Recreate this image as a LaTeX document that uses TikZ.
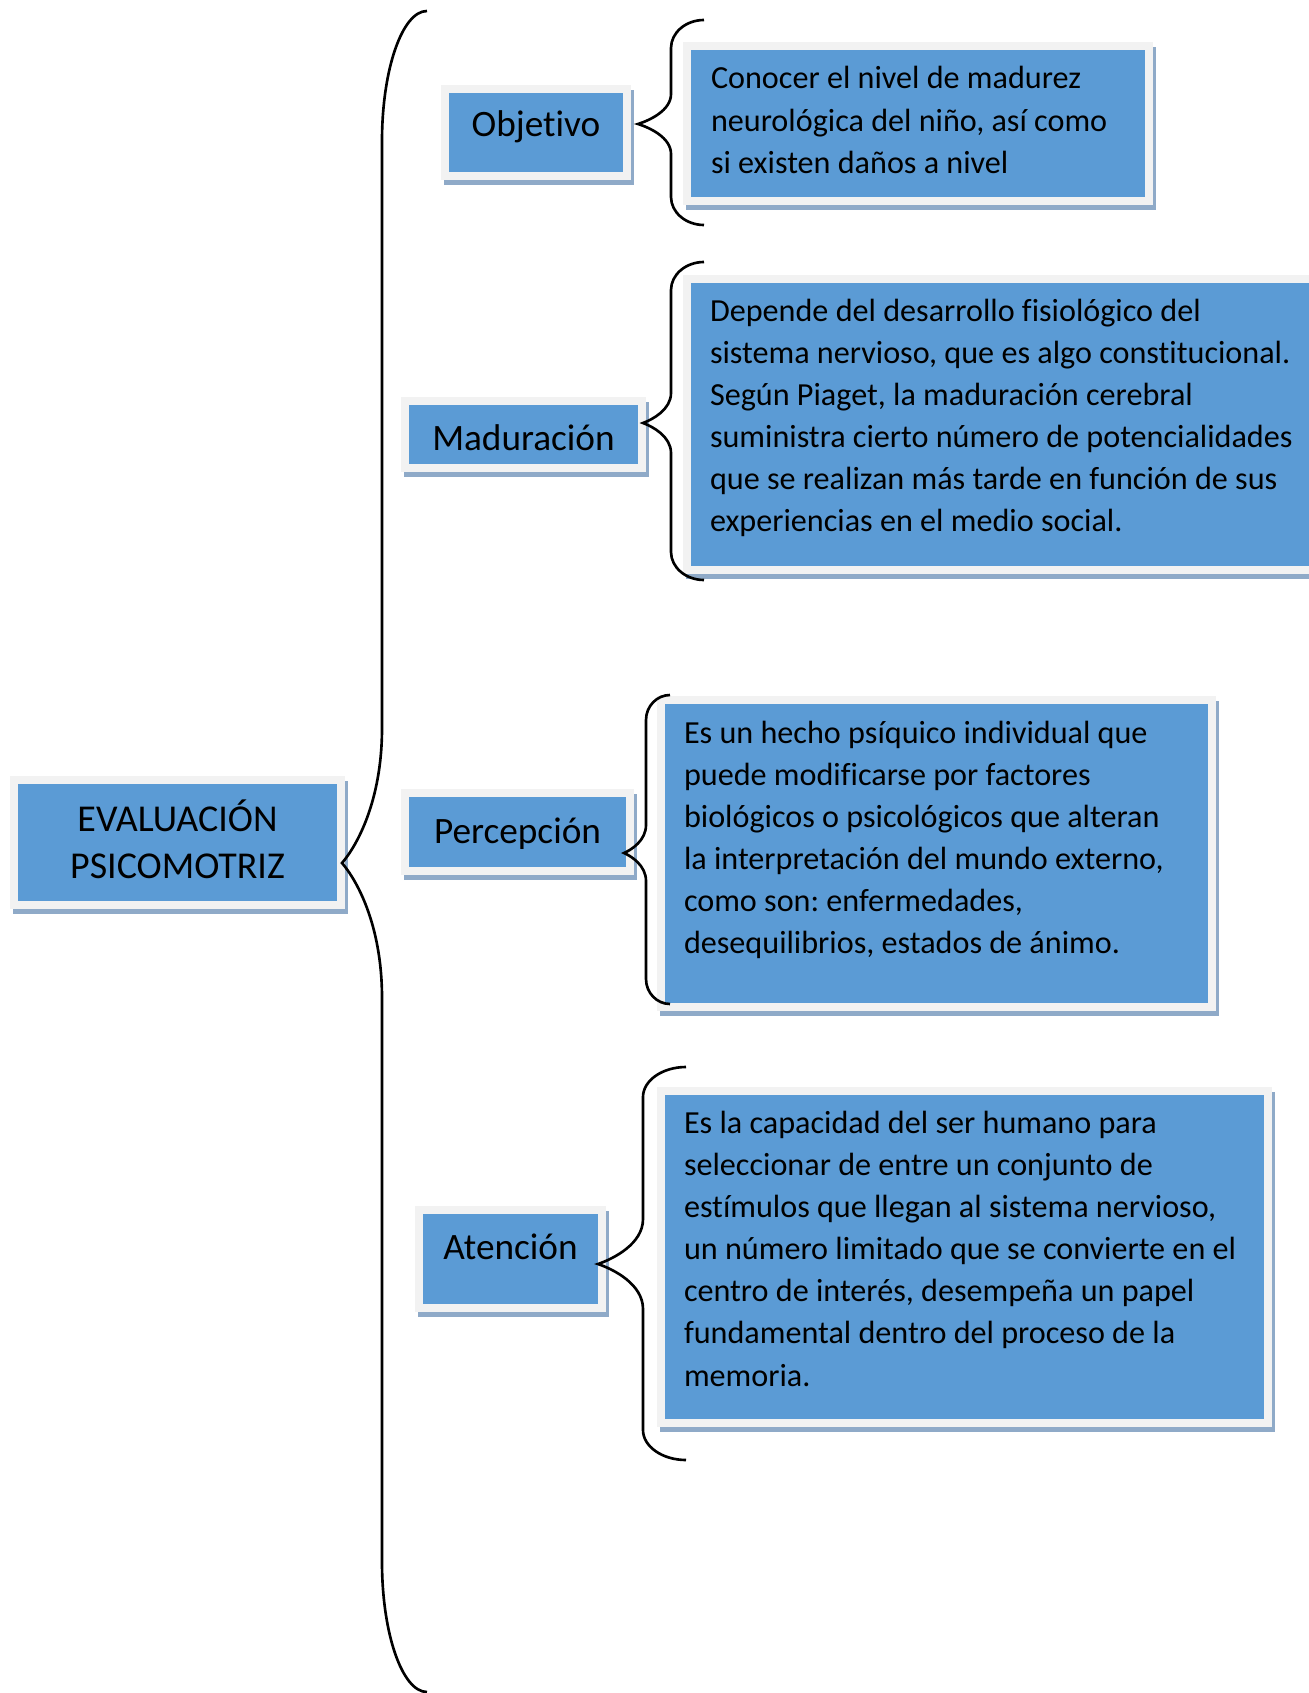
\documentclass[tikz,border=0pt]{standalone}
\usepackage{fontspec}
\setmainfont{Carlito}[Ligatures=NoCommon]
\usepackage{tikz}
\usetikzlibrary{calc,shadows}

\definecolor{cajaazul}{RGB}{91,155,213}
\definecolor{bordegris}{RGB}{242,242,242}
\definecolor{sombra}{RGB}{143,170,200}

\frenchspacing

\begin{document}
\begin{tikzpicture}[x=0.1mm,y=-0.1mm]

\tikzset{caja/.style={rectangle,fill=cajaazul,draw=bordegris,line width=0.8mm,inner sep=0,anchor=north west,
  drop shadow={shadow xshift=0.25mm,shadow yshift=-0.5mm,fill=sombra,draw=sombra,line width=0.8mm,opacity=1}},
titulo/.style={caja,font=\fontsize{10.6pt}{13.4pt}\selectfont},
texto/.style={caja,align=flush left,inner xsep=2.3mm,font=\fontsize{9.15pt}{12pt}\selectfont},
llave/.style={line width=0.75pt}}

\useasboundingbox (0,0) rectangle (1308,1693);

% Main box
\node[titulo,font=\fontsize{10.8pt}{13.4pt}\selectfont,text width=32.7mm,align=center,text height=5.1mm,text depth=7.4mm] (eval) at (10,776) {EVALUACIÓN\\PSICOMOTRIZ};

% Headings
\node[titulo,minimum width=18.2mm,text height=4.8mm,text depth=3.9mm] (obj) at (441,85) {Objetivo};
\node[titulo,minimum width=23.7mm,text height=4.9mm,text depth=1.8mm] (mad) at (401,397) {Maduración};
\node[titulo,minimum width=22.5mm,text height=5.0mm,text depth=2.8mm] (per) at (401,789) {Percepción};
\node[titulo,minimum width=18.3mm,text height=4.9mm,text depth=4.9mm] (at) at (415,1206) {Atención};

% Descriptions
\node[texto,text width=41.4mm,inner xsep=2.4mm,text height=4.3mm,text depth=11.2mm] (objd) at (683,42)
  {Conocer el nivel de madurez\\neurológica del niño, así como\\si existen daños a nivel};
\node[texto,text width=61.1mm,text height=4.2mm,text depth=24.9mm] (madd) at (683,275)
  {Depende del desarrollo fisiológico del\\sistema nervioso, que es algo constitucional.\\Según Piaget, la maduración cerebral\\suministra cierto número de potencialidades\\que se realizan más tarde en función de sus\\experiencias en el medio social.};
\node[texto,text width=50.5mm,text height=4.3mm,text depth=26.4mm] (perd) at (657,696)
  {Es un hecho psíquico individual que\\puede modificarse por factores\\biológicos o psicológicos que alteran\\la interpretación del mundo externo,\\como son: enfermedades,\\desequilibrios, estados de ánimo.};
\node[texto,text width=56.1mm,text height=4.2mm,text depth=29.0mm] (atd) at (657,1087)
  {Es la capacidad del ser humano para\\seleccionar de entre un conjunto de\\estímulos que llegan al sistema nervioso,\\un número limitado que se convierte en el\\centro de interés, desempeña un papel\\fundamental dentro del proceso de la\\memoria.};

% Braces: tip x / line x / cusp x / top / cusp y / bottom / arc / cusp arc
\foreach \xt/\xv/\xc/\yt/\yc/\yb/\r/\s in {
	427/382/342/11/863/1692/130/135, 704/671/638/20/124/225/28/30,
	704/671/643/262/423/580/28/30, 670/646/624/695/853/1004/25/28,
	686/643/598/1067/1264/1460/30/45%
}
	\draw[llave] (\xt,\yt) .. controls ({\xv+0.45*(\xt-\xv)},\yt) and (\xv,{\yt+0.45*\r}) .. (\xv,\yt+\r)
	  -- (\xv,\yc-\s) .. controls (\xv,{\yc-0.45*\s}) and ({\xc+0.35*(\xv-\xc)},{\yc-0.12*\s}) .. (\xc,\yc)
	  .. controls ({\xc+0.35*(\xv-\xc)},{\yc+0.12*\s}) and (\xv,{\yc+0.45*\s}) .. (\xv,\yc+\s)
	  -- (\xv,\yb-\r) .. controls (\xv,{\yb-0.45*\r}) and ({\xv+0.45*(\xt-\xv)},\yb) .. (\xt,\yb);
\end{tikzpicture}
\end{document}
